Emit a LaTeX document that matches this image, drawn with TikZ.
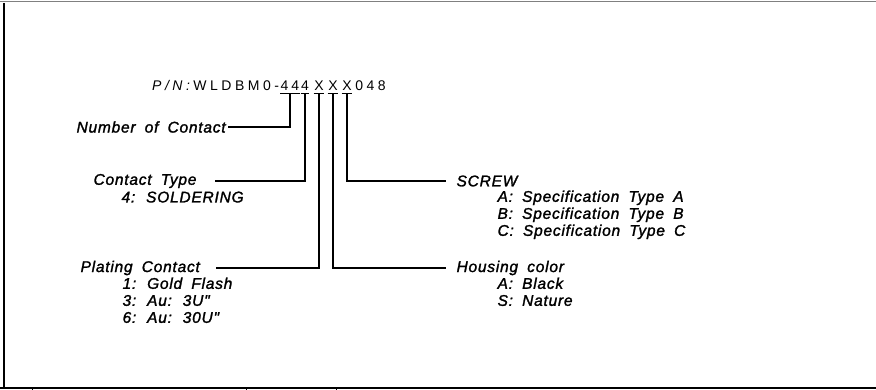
\documentclass[tikz,border=0pt]{standalone}
\usepackage{fontspec}
\setmainfont{Liberation Sans}
\newfontfamily\labelfont{Liberation Sans}[WordSpace=1.8, LetterSpace=5, FakeBold=1.6]
\newfontfamily\pnfont{Liberation Sans}[LetterSpace=25]
\usetikzlibrary{positioning}

\begin{document}
\begin{tikzpicture}[x=1pt, y=-1pt, line width=1.2pt,
    every node/.style={inner sep=0pt},
    title/.style={anchor=west, font=\fontsize{15.5}{17}\selectfont\labelfont\itshape},
    items/.style={anchor=north west, align=left, font=\fontsize{15.5}{17}\selectfont\labelfont\itshape},
    pnchar/.style={anchor=base, text depth=2pt, font=\fontsize{14}{16}\selectfont}]
    \useasboundingbox (0,0) rectangle (876,390);
    % frame
    \draw[gray, line width=0.6pt] (0,1) -- (876,1);
    \draw (4,3) -- (4,388);
    \draw (0,388) -- (876,388);
    \foreach \tx in {32,246,336} \draw[line width=0.8pt] (\tx,388) -- (\tx,390);

    % part number
    \node[pnchar] (c44) at (290,91) {4\kern3pt4};
    \node[pnchar] (c4) at (305,91) {4};
    \node[pnchar] (x1) at (319,91) {X};
    \node[pnchar] (x2) at (333,91) {X};
    \node[pnchar] (x3) at (347,91) {X};
    \node[pnchar, base left=0.5pt of c44, font=\fontsize{14}{16}\selectfont\pnfont] (pn) {\textit{P/N:}WLDBM0-};
    \node[pnchar, base right=2.5pt of x3, font=\fontsize{14}{16}\selectfont\pnfont] (tail) {048};
    \foreach \c in {c44,c4,x1,x2,x3}
        \draw (\c.south west) -- (\c.south east);

    % labels
    \node[title] (nofc) at (76,127) {Number of Contact};
    \node[title] (ctype) at (93,181) {Contact Type};
    \node[items] (ctypeval) at (121,191) {4: SOLDERING};
    \node[title] (plat) at (80,268) {Plating Contact};
    \node[items] (platval) at (122,277) {1: Gold Flash\\3: Au: 3U"\\6: Au: 30U"};
    \node[title] (screw) at (456,181) {SCREW};
    \node[items] (screwval) at (497,190) {A: Specification Type A\\B: Specification Type B\\C: Specification Type C};
    \node[title] (house) at (456,268) {Housing color};
    \node[items] (houseval) at (497,277) {A: Black\\S: Nature};

    % leaders
    \draw (c44.south) |- ([xshift=2pt]nofc.east);
    \draw (c4.south) |- ([xshift=18pt]ctype.east);
    \draw (x1.south) |- ([xshift=16pt]plat.east);
    \draw (x2.south) |- ([xshift=-10pt]house.west);
    \draw (x3.south) |- ([xshift=-10pt]screw.west);
\end{tikzpicture}
\end{document}
